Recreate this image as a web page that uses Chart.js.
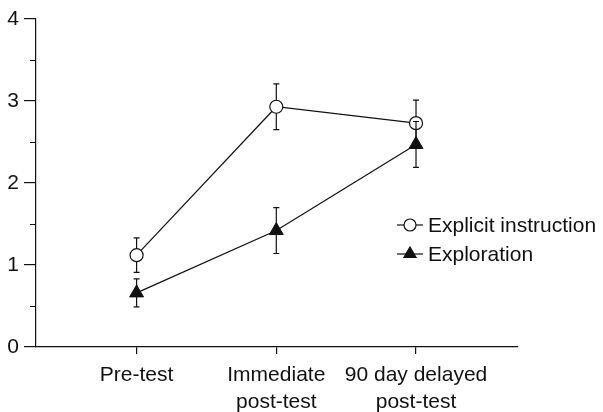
<!DOCTYPE html>
<html>
<head>
<meta charset="utf-8">
<script src="https://cdn.jsdelivr.net/npm/chart.js@4.4.1/dist/chart.umd.min.js"></script>
<style>
  html, body { margin: 0; padding: 0; background: #fff; }
  #wrap { width: 603px; height: 412px; }
</style>
</head>
<body>
<div id="wrap"><canvas id="myChart" width="603" height="412"></canvas></div>
<script>
// categories along the x axis (multi-line labels)
const categories = [['Pre-test'], ['Immediate', 'post-test'], ['90 day delayed', 'post-test']];
const xPositions = [1, 2, 3];

const seriesNames = ['Explicit instruction', 'Exploration'];
const explicitMean = [1.12, 2.93, 2.73];
const explicitErr = [0.21, 0.28, 0.28];
const explorationMean = [0.66, 1.42, 2.47];
const explorationErr = [0.17, 0.28, 0.28];

const yMajorTicks = [0, 1, 2, 3, 4];
const yMinorTicks = [0.5, 1.5, 2.5, 3.5];

const FONT = 'Liberation Sans, Arial, Helvetica, sans-serif';
const INK = '#111';

const toPoints = (ys) => ys.map((y, i) => ({ x: xPositions[i], y: y }));

/*********************** error bars + minor ticks + legend *******************/
const errorBars = {
  id: 'errorBars',
  beforeDatasetDraw(chart, args) {
    const ds = chart.data.datasets[args.index];
    if (!ds.errors) return;
    const { ctx, scales: { x, y } } = chart;
    ctx.save();
    ctx.strokeStyle = INK;
    ctx.lineWidth = 1.2;
    ds.data.forEach((p, i) => {
      const px = x.getPixelForValue(p.x);
      const top = y.getPixelForValue(p.y + ds.errors[i]);
      const bot = y.getPixelForValue(p.y - ds.errors[i]);
      ctx.beginPath();
      ctx.moveTo(px, top); ctx.lineTo(px, bot);
      ctx.moveTo(px - 3, top); ctx.lineTo(px + 3, top);
      ctx.moveTo(px - 3, bot); ctx.lineTo(px + 3, bot);
      ctx.stroke();
    });
    ctx.restore();
  }
};

const minorTicks = {
  id: 'minorTicks',
  afterDraw(chart) {
    const { ctx, scales: { y } } = chart;
    ctx.save();
    ctx.strokeStyle = INK;
    ctx.lineWidth = 1;
    yMinorTicks.forEach(v => {
      const py = Math.round(y.getPixelForValue(v)) + 0.5;
      ctx.beginPath();
      ctx.moveTo(y.right - 6, py);
      ctx.lineTo(y.right, py);
      ctx.stroke();
    });
    ctx.restore();
  }
};

const lineLegend = {
  id: 'lineLegend',
  afterDraw(chart) {
    const { ctx, chartArea } = chart;
    const x0 = chartArea.left + 361;
    let yy = chartArea.top + 206;
    ctx.save();
    chart.data.datasets.forEach(ds => {
      ctx.strokeStyle = INK;
      ctx.lineWidth = 1.2;
      ctx.beginPath();
      ctx.moveTo(x0, yy); ctx.lineTo(x0 + 26, yy);
      ctx.stroke();
      ctx.fillStyle = ds.pointBackgroundColor;
      ctx.beginPath();
      if (ds.pointStyle === 'triangle') {
        const r = 7;
        ctx.moveTo(x0 + 13, yy - r);
        ctx.lineTo(x0 + 13 + r * 0.866, yy + r * 0.5);
        ctx.lineTo(x0 + 13 - r * 0.866, yy + r * 0.5);
        ctx.closePath();
      } else {
        ctx.arc(x0 + 13, yy, 6, 0, Math.PI * 2);
      }
      ctx.fill();
      ctx.stroke();
      ctx.fillStyle = INK;
      ctx.font = '21px ' + FONT;
      ctx.textBaseline = 'middle';
      ctx.fillText(ds.label, x0 + 31, yy + 1);
      yy += 29;
    });
    ctx.restore();
  }
};

const myChart = new Chart(document.getElementById('myChart').getContext('2d'), {
  type: 'line',
  data: {
    datasets: [{
      label: seriesNames[0],
      data: toPoints(explicitMean),
      errors: explicitErr,
      order: 1,
      borderColor: INK,
      borderWidth: 1.2,
      pointStyle: 'circle',
      pointRadius: 6.5,
      pointBorderWidth: 1.2,
      pointBackgroundColor: '#fff',
      pointBorderColor: INK,
      tension: 0
    }, {
      label: seriesNames[1],
      data: toPoints(explorationMean),
      errors: explorationErr,
      order: 0,
      borderColor: INK,
      borderWidth: 1.2,
      pointStyle: 'triangle',
      pointRadius: 8,
      pointBorderWidth: 1,
      pointBackgroundColor: INK,
      pointBorderColor: INK,
      tension: 0
    }]
  },
  options: {
    responsive: false,
    animation: false,
    layout: { padding: { top: 19, right: 85, left: 0, bottom: 0 } },
    plugins: {
      legend: false,
      tooltip: { enabled: false }
    },
    scales: {
      x: {
        type: 'linear',
        min: 0.28,
        max: 3.73,
        afterBuildTicks: (scale) => { scale.ticks = xPositions.map(v => ({ value: v })); },
        afterFit: (scale) => { scale.height = 65; },
        border: { display: true, color: INK, width: 1.2 },
        grid: { drawOnChartArea: false, drawTicks: true, tickLength: 7, color: INK, lineWidth: 1.2 },
        ticks: {
          color: INK,
          padding: 8,
          maxRotation: 0,
          autoSkip: false,
          font: { family: FONT, size: 21, lineHeight: 1.28 },
          callback: (value, index) => categories[index]
        }
      },
      y: {
        min: 0,
        max: 4,
        afterBuildTicks: (scale) => { scale.ticks = yMajorTicks.map(v => ({ value: v })); },
        afterFit: (scale) => { scale.width = 36; },
        border: { display: true, color: INK, width: 1.2 },
        grid: { drawOnChartArea: false, drawTicks: true, tickLength: 12, color: INK, lineWidth: 1.2 },
        ticks: {
          color: INK,
          padding: 5,
          font: { family: FONT, size: 21 }
        }
      }
    }
  },
  plugins: [errorBars, minorTicks, lineLegend]
});
</script>
</body>
</html>
